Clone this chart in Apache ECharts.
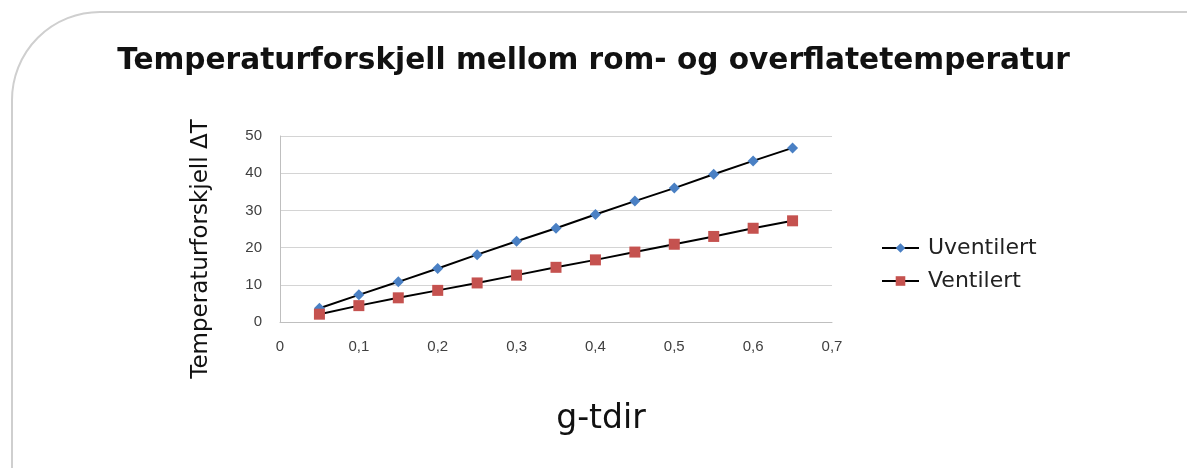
<!DOCTYPE html>
<html>
<head>
<meta charset="utf-8">
<script src="https://cdn.jsdelivr.net/npm/echarts@6/dist/echarts.min.js"></script>
<style>
html,body{margin:0;padding:0;background:#fff;}
#chart{width:1187px;height:468px;}
</style>
</head>
<body>
<div id="chart"></div>
<script>
const titleText = 'Temperaturforskjell mellom rom- og overflatetemperatur';
const xName = 'g-tdir';
const yName = 'Temperaturforskjell ΔT';
const seriesNames = ['Uventilert', 'Ventilert'];
const xValues = [0.05, 0.1, 0.15, 0.2, 0.25, 0.3, 0.35, 0.4, 0.45, 0.5, 0.55, 0.6, 0.65];
const uventilert = [3.7, 7.3, 10.8, 14.4, 18.1, 21.7, 25.2, 28.9, 32.5, 36.0, 39.7, 43.3, 46.8];
const ventilert = [2.1, 4.4, 6.5, 8.5, 10.5, 12.6, 14.7, 16.7, 18.8, 20.9, 23.0, 25.2, 27.2];

const FONT = 'DejaVu Sans';
const chart = echarts.init(document.getElementById('chart'));
const pairs = (ys) => xValues.map((x, i) => [x, ys[i]]);
chart.setOption({
  animation: false,
  backgroundColor: '#fff',
  graphic: [{
    type: 'rect',
    shape: {x: 12, y: 12, width: 1400, height: 700, r: 88},
    style: {fill: 'none', stroke: '#cfcfcf', lineWidth: 2},
    silent: true, z: -1
  }],
  title: {
    text: titleText,
    left: 'center',
    top: 41,
    textStyle: {fontFamily: FONT, fontWeight: 'bold', fontSize: 29.6, color: '#111'}
  },
  legend: {
    orient: 'vertical',
    left: 876,
    top: 232,
    itemWidth: 37,
    itemHeight: 12,
    itemGap: 11,
    data: seriesNames,
    textStyle: {fontFamily: FONT, fontSize: 22, color: '#222', padding: [0, 0, 0, 4]}
  },
  grid: {left: 280, right: 355, top: 136, bottom: 146, containLabel: false},
  xAxis: {
    type: 'value',
    min: 0, max: 0.7, interval: 0.1,
    name: xName,
    nameLocation: 'middle',
    nameGap: 81,
    nameTextStyle: {fontFamily: FONT, fontSize: 33, color: '#111', padding: [0, 0, 0, 90]},
    axisLine: {show: true, lineStyle: {color: '#bfbfbf', width: 1}},
    axisTick: {show: false},
    splitLine: {show: false},
    axisLabel: {
      margin: 17,
      fontFamily: 'Liberation Sans', fontSize: 15, color: '#404040',
      formatter: (v) => (v === 0 ? '0' : v.toFixed(1).replace('.', ','))
    }
  },
  yAxis: {
    type: 'value',
    min: 0, max: 50, interval: 10,
    name: yName,
    nameLocation: 'middle',
    nameGap: 67,
    nameTextStyle: {fontFamily: FONT, fontSize: 23, color: '#111', padding: [0, 40, 0, 0]},
    axisLine: {show: true, lineStyle: {color: '#bfbfbf', width: 1}},
    axisTick: {show: false},
    splitLine: {show: true, lineStyle: {color: '#d4d4d4', width: 1}},
    axisLabel: {margin: 18, fontFamily: 'Liberation Sans', fontSize: 15, color: '#404040'}
  },
  series: [
    {
      name: seriesNames[0], type: 'line', data: pairs(uventilert),
      symbol: 'diamond', symbolSize: 11,
      lineStyle: {color: '#000', width: 2},
      itemStyle: {color: '#4a80c4'}
    },
    {
      name: seriesNames[1], type: 'line', data: pairs(ventilert),
      symbol: 'rect', symbolSize: 11,
      lineStyle: {color: '#000', width: 2},
      itemStyle: {color: '#c5524f'}
    }
  ]
});
</script>
</body>
</html>
